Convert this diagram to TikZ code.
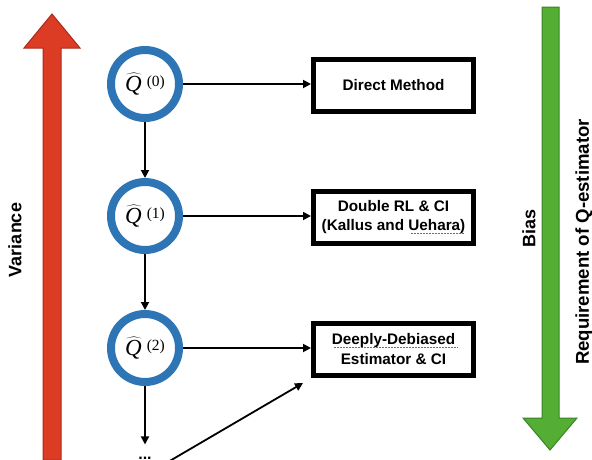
\RequirePackage{fix-cm}
\documentclass[tikz,border=0pt]{standalone}
\usepackage{fontspec}
\setmainfont{Liberation Sans}
\newfontfamily\tnrfont{Liberation Serif}
\usetikzlibrary{arrows.meta,calc}
\definecolor{ringblue}{RGB}{46,117,182}
\definecolor{varred}{RGB}{220,60,36}
\definecolor{varredd}{RGB}{170,42,26}
\definecolor{biasgreen}{RGB}{84,174,52}
\definecolor{biasgreend}{RGB}{58,130,36}
\definecolor{spellred}{RGB}{230,60,60}
\newcommand{\qhat}[1]{\fontsize{23}{26}\selectfont$\widehat{\mbox{\tnrfont\itshape Q\kern1pt}}$\kern4pt\raisebox{4.5pt}{\tnrfont\fontsize{15.5}{16}\selectfont(#1)}}
\begin{document}
\begin{tikzpicture}[x=1pt,y=-1pt,
  qnode/.style={circle,draw=ringblue,line width=8pt,minimum size=68pt,inner sep=0pt,fill=white},
  mbox/.style={rectangle,draw=black,line width=5pt,minimum width=160pt,minimum height=52pt,
    align=center,inner sep=2pt,font=\bfseries\fontsize{15.3}{19.5}\selectfont},
  arr/.style={line width=1.8pt,-{Triangle[length=8pt,width=8pt]}},
  sidelabel/.style={rotate=90,font=\bfseries\fontsize{18}{20}\selectfont,inner sep=0pt},
  spell/.style={draw=spellred,line width=0.5pt,densely dotted}]
\useasboundingbox (0,0) rectangle (592,459);
% big arrows
\fill[varred,draw=varredd,line width=1pt] (43,460) -- (43,48) -- (24,48) -- (52,14) -- (80,48) -- (61,48) -- (61,460) -- cycle;
\fill[biasgreen,draw=biasgreend,line width=1pt] (542,7) -- (559,7) -- (559,418) -- (577,418) -- (550,450) -- (523,418) -- (542,418) -- cycle;
% side labels
\node[sidelabel] (lvar) at (15,240) {Variance};
\node[sidelabel] (lbias) at (529,228) {Bias};
\node[sidelabel,font=\bfseries\fontsize{18.6}{20}\selectfont] (lreq) at (584,242) {Requirement of Q-estimator};
% estimator nodes
\node[qnode] (q0) at (145,84) {\qhat{0}};
\node[qnode] (q1) at (145,216) {\qhat{1}};
\node[qnode] (q2) at (145,348) {\qhat{2}};
\node[anchor=base,inner xsep=0pt,inner ysep=12pt,font=\bfseries\fontsize{16}{18}\selectfont] (dots) at (145,459) {...};
% method boxes
\node[mbox] (b0) at (393.5,85) {Direct Method};
\node[mbox] (b1) at (393.5,217) {Double RL \& CI\\(Kallus and Uehara)};
\node[mbox] (b2) at (393.5,349) {Deeply-Debiased\\Estimator \& CI};
% spell-check underlines
\draw[spell] ($(b1.center)+(17,16)$) -- ($(b1.center)+(70,16)$);
\draw[spell] ($(b2.center)+(-60,-2)$) -- ($(b2.center)+(64,-2)$);
% connectors
\draw[arr] (q0) -- (q1);
\draw[arr] (q1) -- (q2);
\draw[arr] (q2) -- (dots);
\draw[arr] (q0) -- (b0.west |- q0);
\draw[arr] (q1) -- (b1.west |- q1);
\draw[arr] (q2) -- (b2.west |- q2);
\coordinate (dstart) at (150,472.5);
\coordinate (dend) at (303,383);
\draw[arr] (dstart) -- (dend);
\end{tikzpicture}
\end{document}
